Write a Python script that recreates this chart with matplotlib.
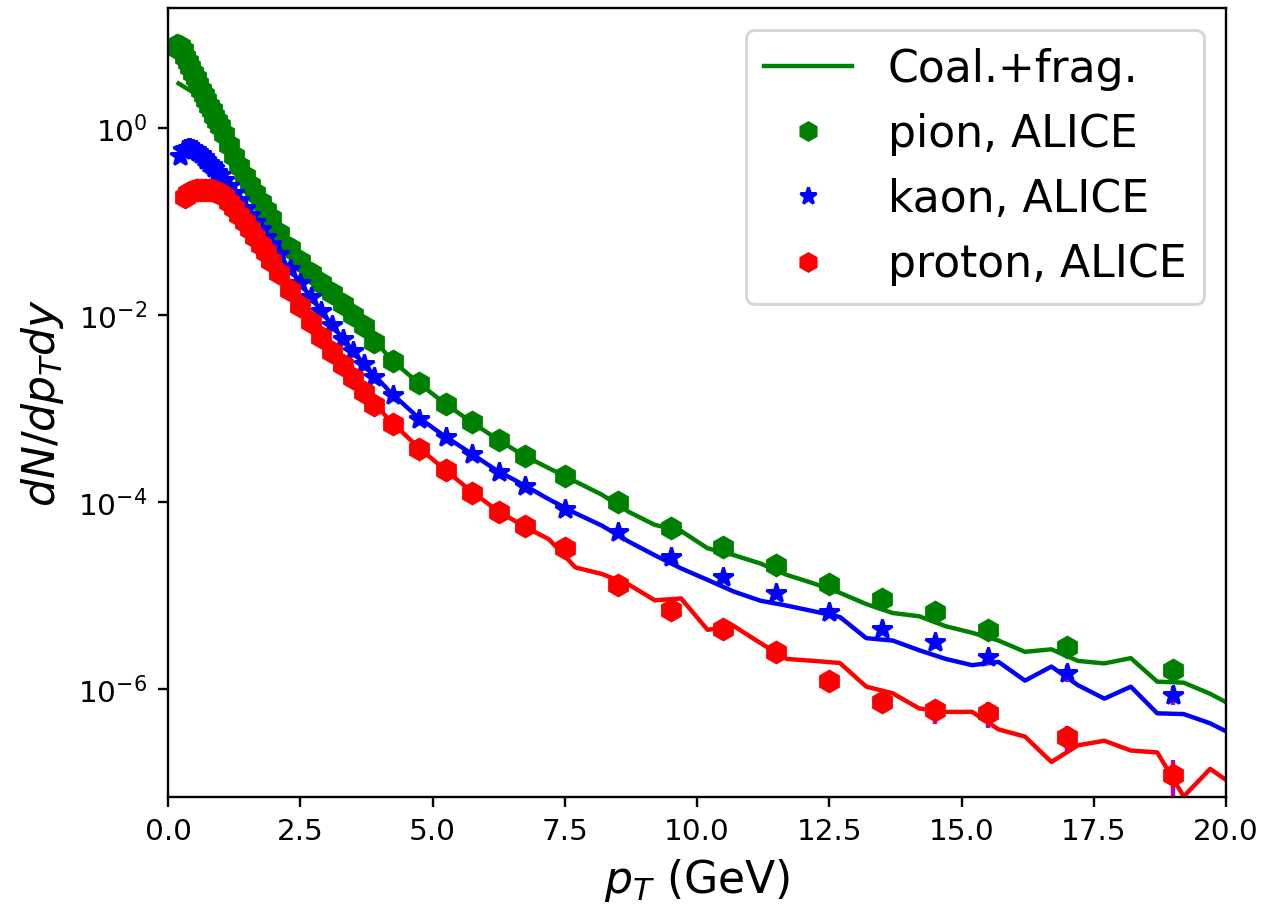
import matplotlib.pyplot as plt
from matplotlib.ticker import NullLocator

# ALICE identified-hadron spectra (bin centres in GeV)
pion_pt = [0.125, 0.175, 0.225, 0.275, 0.325, 0.375, 0.425, 0.475, 0.525, 0.575,
           0.625, 0.675, 0.725, 0.775, 0.825, 0.875, 0.925, 0.975,
           1.05, 1.15, 1.25, 1.35, 1.45, 1.55, 1.65, 1.75, 1.85, 1.95,
           2.1, 2.3, 2.5, 2.7, 2.9, 3.1, 3.3, 3.5, 3.7, 3.9,
           4.25, 4.75, 5.25, 5.75, 6.25, 6.75,
           7.5, 8.5, 9.5, 10.5, 11.5, 12.5, 13.5, 14.5, 15.5, 17.0, 19.0]
pion_y = [7.41, 7.76, 7.59, 6.76, 5.75, 5.13, 4.47, 3.89, 3.39, 2.95,
          2.57, 2.26, 2.0, 1.74, 1.55, 1.36, 1.20, 1.06,
          0.87, 0.66, 0.50, 0.39, 0.31, 0.245, 0.20, 0.162, 0.132, 0.11,
          0.076, 0.052, 0.038, 0.028, 0.022, 0.0174, 0.0132, 0.010, 0.0076, 0.0051,
          0.0032, 0.00186, 0.00112, 0.00071, 0.00046, 0.00031,
          1.9e-4, 1.0e-4, 5.3e-5, 3.3e-5, 2.1e-5, 1.32e-5, 9.1e-6, 6.6e-6, 4.3e-6, 2.8e-6, 1.6e-6]

kaon_pt = [0.225, 0.275, 0.325, 0.375, 0.425, 0.475, 0.525, 0.575,
           0.625, 0.675, 0.725, 0.775, 0.825, 0.875, 0.925, 0.975,
           1.05, 1.15, 1.25, 1.35, 1.45, 1.55, 1.65, 1.75, 1.85, 1.95,
           2.1, 2.3, 2.5, 2.7, 2.9, 3.1, 3.3, 3.5, 3.7, 3.9,
           4.25, 4.75, 5.25, 5.75, 6.25, 6.75,
           7.5, 8.5, 9.5, 10.5, 11.5, 12.5, 13.5, 14.5, 15.5, 17.0, 19.0]
kaon_y = [0.50, 0.575, 0.60, 0.617, 0.617, 0.60, 0.575, 0.55,
          0.525, 0.49, 0.457, 0.427, 0.40, 0.37, 0.34, 0.316,
          0.28, 0.24, 0.20, 0.17, 0.141, 0.117, 0.100, 0.083, 0.069, 0.0575,
          0.0447, 0.031, 0.0219, 0.0155, 0.011, 0.0078, 0.0055, 0.0041, 0.0030, 0.0022,
          0.0014, 7.8e-4, 5.0e-4, 3.26e-4, 2.1e-4, 1.5e-4,
          8.5e-5, 4.8e-5, 2.6e-5, 1.58e-5, 1.07e-5, 6.6e-6, 4.4e-6, 3.2e-6, 2.2e-6, 1.5e-6, 8.7e-7]

proton_pt = [0.325, 0.375, 0.425, 0.475, 0.525, 0.575,
             0.625, 0.675, 0.725, 0.775, 0.825, 0.875, 0.925, 0.975,
             1.05, 1.15, 1.25, 1.35, 1.45, 1.55, 1.65, 1.75, 1.85, 1.95,
             2.1, 2.3, 2.5, 2.7, 2.9, 3.1, 3.3, 3.5, 3.7, 3.9,
             4.25, 4.75, 5.25, 5.75, 6.25, 6.75,
             7.5, 8.5, 9.5, 10.5, 11.5, 12.5, 13.5, 14.5, 15.5, 17.0, 19.0]
proton_y = [0.182, 0.20, 0.209, 0.214, 0.219, 0.219,
            0.219, 0.219, 0.219, 0.219, 0.216, 0.211, 0.207, 0.20,
            0.186, 0.162, 0.138, 0.117, 0.100, 0.083, 0.068, 0.056, 0.047, 0.038,
            0.028, 0.0186, 0.0126, 0.0085, 0.0058, 0.0040, 0.0029, 0.0021, 0.0015, 0.0011,
            6.9e-4, 3.7e-4, 2.2e-4, 1.26e-4, 7.9e-5, 5.5e-5,
            3.2e-5, 1.29e-5, 7.0e-6, 4.4e-6, 2.46e-6, 1.23e-6, 7.3e-7, 5.9e-7, 5.5e-7, 3.1e-7, 1.2e-7]

# statistical errors, only visible at high pT
tail_pt = [13.5, 14.5, 15.5, 17.0, 19.0]
pion_err = [0.5e-6, 0.5e-6, 0.4e-6, 0.4e-6, 0.3e-6]
kaon_err = [0.3e-6, 0.5e-6, 0.4e-6, 0.3e-6, 2.0e-7]
proton_err = [1.0e-7, 1.7e-7, 1.7e-7, 0.9e-7, 5.5e-8]

# coalescence + fragmentation model
model_pt = [0.2, 0.7, 1.2, 1.7, 2.2, 2.7, 3.2, 3.7, 4.2, 4.7,
            5.2, 5.7, 6.2, 6.7, 7.2, 7.7, 8.2, 8.7, 9.2, 9.7,
            10.2, 10.7, 11.2, 11.7, 12.2, 12.7, 13.2, 13.7, 14.2, 14.7,
            15.2, 15.7, 16.2, 16.7, 17.2, 17.7, 18.2, 18.7, 19.2, 19.7, 20.2]
pion_model = [3.0, 2.0, 0.56, 0.182, 0.063, 0.028, 0.0151, 0.0076, 0.0034, 0.00195,
              0.00117, 7.4e-4, 4.8e-4, 3.2e-4, 2.3e-4, 1.66e-4, 1.2e-4, 7.9e-5, 5.7e-5, 4.9e-5,
              3.2e-5, 2.7e-5, 2.2e-5, 1.66e-5, 1.35e-5, 1.07e-5, 8.1e-6, 6.5e-6, 6.0e-6, 4.7e-6,
              4.0e-6, 3.3e-6, 2.5e-6, 2.66e-6, 2.0e-6, 1.88e-6, 2.14e-6, 1.2e-6, 1.17e-6, 8.9e-7, 6.3e-7]
kaon_model = [0.52, 0.47, 0.22, 0.091, 0.037, 0.0155, 0.0066, 0.0030, 0.0015, 8.3e-4,
              5.2e-4, 3.4e-4, 2.2e-4, 1.55e-4, 1.07e-4, 7.6e-5, 5.6e-5, 3.8e-5, 2.7e-5, 1.95e-5,
              1.47e-5, 1.1e-5, 8.8e-6, 7.8e-6, 6.8e-6, 5.9e-6, 3.5e-6, 3.3e-6, 2.6e-6, 2.1e-6,
              1.8e-6, 1.95e-6, 1.23e-6, 1.74e-6, 1.1e-6, 7.9e-7, 1.06e-6, 5.5e-7, 5.4e-7, 4.3e-7, 3.1e-7]
proton_model = [0.17, 0.22, 0.15, 0.062, 0.023, 0.0085, 0.0034, 0.0015, 7.4e-4, 4.0e-4,
                2.3e-4, 1.35e-4, 8.3e-5, 5.6e-5, 4.0e-5, 2.0e-5, 1.7e-5, 1.32e-5, 8.9e-6, 9.3e-6,
                4.3e-6, 4.7e-6, 3.1e-6, 2.1e-6, 2.0e-6, 1.9e-6, 1.06e-6, 9.0e-7, 6.2e-7, 5.7e-7,
                5.7e-7, 3.7e-7, 3.1e-7, 1.66e-7, 2.5e-7, 2.8e-7, 2.2e-7, 2.1e-7, 7.1e-8, 1.4e-7, 8.9e-8]


def main():
    fig = plt.figure(figsize=(1268 / 212, 911 / 212), dpi=212)
    ax = fig.add_axes([0.1325, 0.1251, 0.8344, 0.8661])

    ax.plot(model_pt, pion_model, color="green", label="Coal.+frag.")
    ax.plot(model_pt, kaon_model, color="blue")
    ax.plot(model_pt, proton_model, color="red")

    ax.errorbar(tail_pt, pion_y[-5:], yerr=pion_err, fmt="none", ecolor="m")
    ax.errorbar(tail_pt, kaon_y[-5:], yerr=kaon_err, fmt="none", ecolor="m")
    ax.errorbar(tail_pt, proton_y[-5:], yerr=proton_err, fmt="none", ecolor="m")

    ax.plot(pion_pt, pion_y, "h", color="green", ms=7, label="pion, ALICE")
    ax.plot(kaon_pt, kaon_y, "*", color="blue", ms=7, label="kaon, ALICE")
    ax.plot(proton_pt, proton_y, "h", color="red", ms=7, label="proton, ALICE")

    ax.set_yscale("log")
    ax.set_xlim(0, 20)
    ax.set_ylim(7.0e-8, 19.2)
    ax.set_yticks([1e0, 1e-2, 1e-4, 1e-6])
    ax.yaxis.set_minor_locator(NullLocator())
    ax.set_xlabel("$p_T$ (GeV)", fontsize=15)
    ax.set_ylabel("$dN/dp_Tdy$", fontsize=15)
    ax.legend(loc="upper right", fontsize=15, markerscale=0.85)
    fig.savefig("out.png", dpi=212)


if __name__ == "__main__":
    main()
